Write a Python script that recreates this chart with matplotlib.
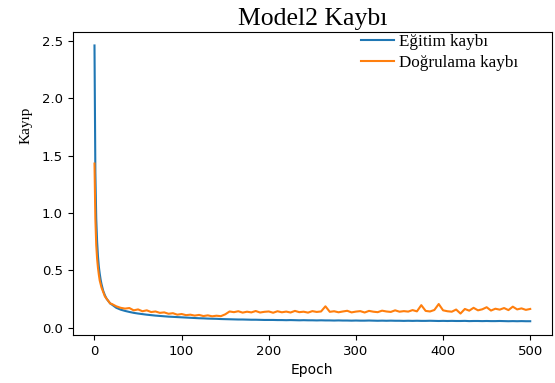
import numpy as np
import matplotlib.pyplot as plt

# ------------------------------------------------------------
# Model2 loss curves
# ------------------------------------------------------------
EPOCHS_EARLY = [0, 1, 2, 3, 4, 5, 6, 7, 8, 9, 10, 12, 14, 16, 18]
TRAIN_EARLY = [2.46, 1.35, 0.95, 0.75, 0.62, 0.53, 0.47, 0.42, 0.38, 0.35,
               0.32, 0.28, 0.25, 0.23, 0.21]
VAL_EARLY = [1.43, 0.95, 0.72, 0.60, 0.52, 0.46, 0.41, 0.38, 0.35, 0.33,
             0.31, 0.27, 0.25, 0.23, 0.21]

EPOCHS_LATE = list(range(20, 501, 5))
TRAIN_LATE = [
    0.200, 0.172, 0.156, 0.145, 0.136, 0.128, 0.122, 0.117, 0.112, 0.108,  # 20-65
    0.104, 0.101, 0.098, 0.095, 0.093, 0.091, 0.089, 0.087, 0.085, 0.083,  # 70-115
    0.081, 0.080, 0.078, 0.077, 0.076, 0.074, 0.073, 0.072, 0.071, 0.070,  # 120-165
    0.070, 0.069, 0.068, 0.068, 0.067, 0.066, 0.066, 0.066, 0.065, 0.065,  # 170-215
    0.064, 0.065, 0.064, 0.063, 0.064, 0.063, 0.063, 0.062, 0.063, 0.062,  # 220-265
    0.062, 0.061, 0.062, 0.061, 0.061, 0.060, 0.061, 0.060, 0.060, 0.061,  # 270-315
    0.060, 0.059, 0.060, 0.059, 0.060, 0.059, 0.059, 0.058, 0.059, 0.058,  # 320-365
    0.059, 0.058, 0.058, 0.059, 0.058, 0.057, 0.058, 0.057, 0.058, 0.057,  # 370-415
    0.057, 0.058, 0.056, 0.057, 0.057, 0.056, 0.057, 0.056, 0.056, 0.057,  # 420-465
    0.056, 0.055, 0.056, 0.055, 0.056, 0.055, 0.055,                       # 470-500
]
VAL_LATE = [
    0.205, 0.185, 0.172, 0.165, 0.170, 0.150, 0.158, 0.142, 0.150, 0.135,  # 20-65
    0.140, 0.128, 0.132, 0.120, 0.125, 0.112, 0.118, 0.108, 0.112, 0.104,  # 70-115
    0.110, 0.100, 0.106, 0.098, 0.103, 0.099, 0.115, 0.140, 0.134, 0.142,  # 120-165
    0.130, 0.138, 0.132, 0.144, 0.131, 0.137, 0.140, 0.129, 0.142, 0.133,  # 170-215
    0.139, 0.131, 0.145, 0.134, 0.138, 0.130, 0.143, 0.136, 0.140, 0.185,  # 220-265
    0.137, 0.142, 0.133, 0.140, 0.146, 0.132, 0.139, 0.143, 0.131, 0.145,  # 270-315
    0.138, 0.134, 0.147, 0.140, 0.136, 0.150, 0.138, 0.143, 0.139, 0.152,  # 320-365
    0.141, 0.195, 0.145, 0.140, 0.153, 0.205, 0.150, 0.142, 0.138, 0.157,  # 370-415
    0.122, 0.162, 0.147, 0.172, 0.150, 0.159, 0.177, 0.148, 0.164, 0.156,  # 420-465
    0.170, 0.152, 0.182, 0.158, 0.167, 0.154, 0.162,                       # 470-500
]

epochs = np.array(EPOCHS_EARLY + EPOCHS_LATE)
train_loss = np.array(TRAIN_EARLY + TRAIN_LATE)
val_loss = np.array(VAL_EARLY + VAL_LATE)

SERIF = "Liberation Serif"

fig = plt.figure(figsize=(5.55, 3.83), dpi=100)
ax = fig.add_axes([0.131, 0.1253, 0.8636, 0.792])

ax.plot(epochs, train_loss, color="#1f77b4", linewidth=1.5, label="Eğitim kaybı")
ax.plot(epochs, val_loss, color="#ff7f0e", linewidth=1.5, label="Doğrulama kaybı")

ax.set_title("Model2 Kaybı", family=SERIF, fontsize=18.5, pad=5)
ax.set_ylabel("Kayıp", family=SERIF, fontsize=11)
ax.yaxis.set_label_coords(-0.083, 0.69)
ax.set_xlabel("Epoch", fontsize=10)
ax.set_xticks([0, 100, 200, 300, 400, 500])
ax.set_yticks([0.0, 0.5, 1.0, 1.5, 2.0, 2.5])
ax.tick_params(labelsize=9.5)

ax.legend(loc="upper right", bbox_to_anchor=(0.929, 0.993), frameon=False,
          prop={"family": SERIF, "size": 12.3}, borderpad=0, borderaxespad=0,
          labelspacing=0.28, handlelength=1.9, handletextpad=0.3)

fig.savefig("out.png", dpi=100)
